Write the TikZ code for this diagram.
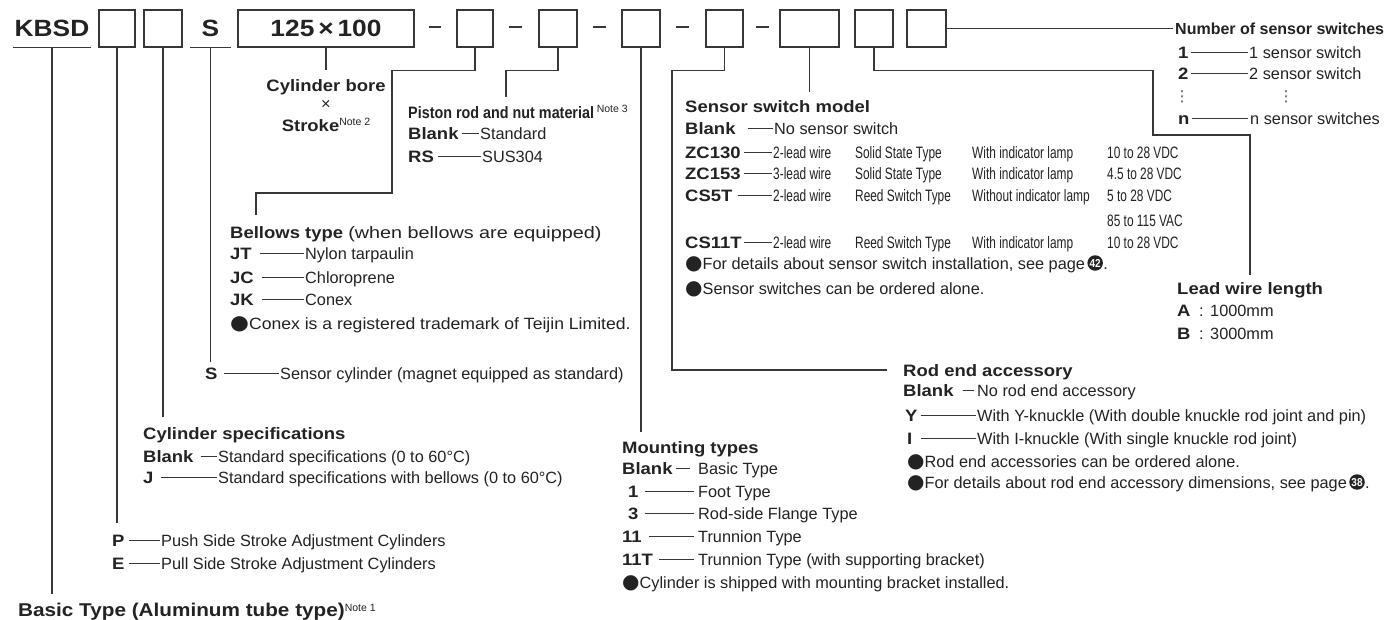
\documentclass[tikz,border=0pt]{standalone}
\usepackage{fontspec}
\setmainfont{Liberation Sans}
\newfontfamily\rgf{Liberation Sans}
\newfontfamily\cnf[FakeStretch=0.72]{Liberation Sans}
\newfontfamily\bwf[FakeStretch=1.12]{Liberation Sans}
\newfontfamily\bnf[FakeStretch=0.87]{Liberation Sans}
\newfontfamily\djv{DejaVu Sans}
\definecolor{txt}{RGB}{35,35,35}
\definecolor{lnc}{RGB}{55,55,55}
\newcommand\bulletc{{\djv\mdseries\fontsize{20}{17}\selectfont\raisebox{-0.8pt}{●}}}
\newcommand\ntsup[1]{\raisebox{5.5pt}{\rgf\mdseries\fontsize{10.5}{11}\selectfont #1}}
\tikzset{
  tx/.style={anchor=west, inner sep=0pt, text height=12pt, text depth=0pt, text=txt},
  rg/.style={tx, font=\rgf\fontsize{16.3}{18}\selectfont},
  cn/.style={tx, font=\cnf\fontsize{16.5}{18}\selectfont},
  bw/.style={tx, font=\bwf\bfseries\fontsize{16.5}{18}\selectfont},
  bn/.style={tx, font=\bnf\bfseries\fontsize{16.5}{18}\selectfont},
  bb/.style={tx, font=\rgf\bfseries\fontsize{16}{18}\selectfont},
  cbox/.style={draw=lnc, line width=1.3pt, minimum height=37pt, inner sep=0pt, text=txt,
    font=\bwf\bfseries\fontsize{23.5}{26}\selectfont, text height=16.8pt, text depth=0pt},
  hd/.style={cbox, draw=none},
  ld/.style={draw=lnc, line width=1.2pt},
  dl/.style={draw=lnc, line width=1pt},
  pgc/.style={circle, fill=txt, text=white, inner sep=0pt, minimum size=15.5pt,
    text height=8pt, text depth=0pt,
    font=\bnf\bfseries\fontsize{11.5}{11.5}\selectfont, anchor=west},
  vdots/.style={inner sep=0pt, text=txt!80, font=\djv\fontsize{15}{15}\selectfont},
}
\begin{document}
\begin{tikzpicture}[x=1pt,y=-1pt]
\useasboundingbox[fill=white] (0,0) rectangle (1387,619);

% ---------- header row ----------
\node[hd, minimum width=76pt] (kbsd) at (52,28.5) {KBSD};
\draw[ld] (kbsd.south west) -- (kbsd.south east);
\node[cbox, minimum width=36pt] (b1) at (117,28.5) {};
\node[cbox, minimum width=38pt] (b2) at (163,28.5) {};
\node[hd, minimum width=39pt] (sh) at (210.5,28.5) {S};
\draw[ld] (sh.south west) -- (sh.south east);
\node[cbox, minimum width=176pt] (b125) at (326,28.5) {125\,×\,100};
\node[cbox, minimum width=36pt] (b3) at (475,28.5) {};
\node[cbox, minimum width=38pt] (b4) at (558,28.5) {};
\node[cbox, minimum width=38pt] (b5) at (641,28.5) {};
\node[cbox, minimum width=37pt] (b6) at (724.5,28.5) {};
\node[cbox, minimum width=59pt] (b7) at (809.5,28.5) {};
\node[cbox, minimum width=38pt] (b8) at (874,28.5) {};
\node[cbox, minimum width=39pt] (b9) at (926.5,28.5) {};

\draw[ld] ([xshift=14pt,yshift=1.5pt]b125.east) -- ([xshift=-15pt,yshift=1.5pt]b3.west);
\draw[ld] ([xshift=15pt,yshift=1.5pt]b3.east) -- ([xshift=-16pt,yshift=1.5pt]b4.west);
\draw[ld] ([xshift=15pt,yshift=1.5pt]b4.east) -- ([xshift=-15pt,yshift=1.5pt]b5.west);
\draw[ld] ([xshift=15pt,yshift=1.5pt]b5.east) -- ([xshift=-16pt,yshift=1.5pt]b6.west);
\draw[ld] ([xshift=12pt,yshift=1.5pt]b6.east) -- ([xshift=-10pt,yshift=1.5pt]b7.west);

% ---------- cylinder bore x stroke ----------
\node[bw, anchor=center] (bore) at (326,85) {Cylinder bore};
\node[rg, anchor=center] (times) at (326,103) {×};
\node[bw, anchor=center] (strk) at (326,125) {Stroke\ntsup{Note 2}};
\draw[ld, shorten >=9pt] (b125.south) -- (bore.north);

% ---------- piston rod ----------
\node[bn] (pis) at (408,112) {Piston rod and nut material\,\ntsup{Note 3}};
\node[bw] (pbl) at (408,133) {Blank};
\node[rg] (pbd) at (480,133) {Standard};
\draw[dl] ([xshift=3pt]pbl.east) -- ([xshift=-1pt]pbd.west);
\node[bw] (prs) at (408,156) {RS};
\node[rg] (prd) at (482,156) {SUS304};
\draw[dl] ([xshift=4pt]prs.east) -- ([xshift=-1pt]prd.west);
\draw[ld, shorten >=9pt] (b4.south) -- ++(0,23) -| ([xshift=98pt]pis.north west);

% ---------- bellows ----------
\node[bw] (bel) at (230,232) {Bellows type\ \scalebox{1.2}[1]{\rgf\mdseries (when bellows are equipped)}};
\node[bw] (jt) at (230,253) {JT};
\node[rg] (jtd) at (305,253) {Nylon tarpaulin};
\draw[dl] ([xshift=8pt]jt.east) -- ([xshift=-1pt]jtd.west);
\node[bw] (jc) at (230,277) {JC};
\node[rg] (jcd) at (305,277) {Chloroprene};
\draw[dl] ([xshift=8pt]jc.east) -- ([xshift=-1pt]jcd.west);
\node[bw] (jk) at (230,299) {JK};
\node[rg] (jkd) at (305,299) {Conex};
\draw[dl] ([xshift=8pt]jk.east) -- ([xshift=-1pt]jkd.west);
\node[rg] (conex) at (230,323) {\scalebox{1.08}[1]{\bulletc Conex is a registered trademark of Teijin Limited.}};
\draw[ld, shorten >=11pt] (b3.south) -- ++(0,23) -| (392,193) -| ([xshift=26pt]bel.north west);

% ---------- sensor cylinder ----------
\node[bw] (sl) at (205,373) {S};
\node[rg] (sld) at (280,373) {Sensor cylinder (magnet equipped as standard)};
\draw[dl] ([xshift=6pt]sl.east) -- ([xshift=-1pt]sld.west);
\draw[ld, shorten >=5pt] (sh.south) -- (sh.south |- sl.north);

% ---------- cylinder specifications ----------
\node[bw] (cs) at (143,433) {Cylinder specifications};
\node[bw] (csb) at (143,456) {Blank};
\node[rg] (csbd) at (218,456) {Standard specifications (0 to 60°C)};
\draw[dl] ([xshift=7pt]csb.east) -- ([xshift=-1pt]csbd.west);
\node[bw] (csj) at (143,477) {J};
\node[rg] (csjd) at (218,477) {Standard specifications with bellows (0 to 60°C)};
\draw[dl] ([xshift=7pt]csj.east) -- ([xshift=-1pt]csjd.west);
\draw[ld, shorten >=10pt] (b2.south) -- (b2.south |- cs.north);

% ---------- P / E ----------
\node[bw] (pl) at (112,540) {P};
\node[rg] (pld) at (161,540) {Push Side Stroke Adjustment Cylinders};
\draw[dl] ([xshift=4pt]pl.east) -- ([xshift=-1pt]pld.west);
\node[bw] (el) at (112,563) {E};
\node[rg] (eld) at (161,563) {Pull Side Stroke Adjustment Cylinders};
\draw[dl] ([xshift=4pt]el.east) -- ([xshift=-1pt]eld.west);
\draw[ld, shorten >=11pt] (b1.south) -- (b1.south |- pl.north);

% ---------- basic type ----------
\node[bw, font=\bwf\bfseries\fontsize{18.5}{20}\selectfont, text height=13.3pt] (basic) at (18,610) {Basic Type (Aluminum tube type)\ntsup{Note 1}};
\draw[ld, shorten >=9pt] (kbsd.south) -- (kbsd.south |- basic.north);

% ---------- mounting types ----------
\node[bw] (mt) at (622,447) {Mounting types};
\node[bw] (mb) at (622,468) {Blank};
\node[rg] (mbd) at (698,468) {Basic Type};
\draw[dl] ([xshift=3pt]mb.east) -- ([xshift=-8pt]mbd.west);
\node[bw] (m1) at (628,491) {1};
\node[rg] (m1d) at (698,491) {Foot Type};
\draw[dl] ([xshift=6pt]m1.east) -- ([xshift=-4pt]m1d.west);
\node[bw] (m3) at (628,513) {3};
\node[rg] (m3d) at (698,513) {Rod-side Flange Type};
\draw[dl] ([xshift=6pt]m3.east) -- ([xshift=-4pt]m3d.west);
\node[bw] (m11) at (622,536) {11};
\node[rg] (m11d) at (698,536) {Trunnion Type};
\draw[dl] ([xshift=7pt]m11.east) -- ([xshift=-4pt]m11d.west);
\node[bw] (m11t) at (622,559) {11T};
\node[rg] (m11td) at (698,559) {Trunnion Type (with supporting bracket)};
\draw[dl] ([xshift=6pt]m11t.east) -- ([xshift=-4pt]m11td.west);
\node[rg] (mnote) at (622,582) {\bulletc Cylinder is shipped with mounting bracket installed.};
\draw[ld, shorten >=9pt] (b5.south) -- (b5.south |- mt.north);

% ---------- rod end accessory ----------
\node[bw] (rod) at (903,370) {Rod end accessory};
\node[bw] (rb) at (903,390) {Blank};
\node[rg] (rbd) at (977,390) {No rod end accessory};
\draw[dl] ([xshift=9pt]rb.east) -- ([xshift=-3pt]rbd.west);
\node[bw] (ry) at (905,415) {Y};
\node[rg] (ryd) at (977,415) {With Y-knuckle (With double knuckle rod joint and pin)};
\draw[dl] ([xshift=3pt]ry.east) -- ([xshift=-1pt]ryd.west);
\node[bw] (ri) at (907,438) {I};
\node[rg] (rid) at (977,438) {With I-knuckle (With single knuckle rod joint)};
\draw[dl] ([xshift=8pt]ri.east) -- ([xshift=-1pt]rid.west);
\node[rg] (rn1) at (907,461) {\bulletc Rod end accessories can be ordered alone.};
\node[rg] (rn2) at (907,482) {\bulletc For details about rod end accessory dimensions, see page};
\node[pgc] (rp) at ([xshift=2pt]rn2.east) {38};
\node[rg] (rdot) at (rp.east) {.};
\draw[ld, shorten >=16pt] (b6.south) -- ++(0,23) -| (672,370) -- (rod.west);

% ---------- sensor switch model ----------
\node[bw] (ssm) at (685,106) {Sensor switch model};
\node[bw] (sb) at (685,128) {Blank};
\node[rg] (sbd) at (774,128) {No sensor switch};
\draw[dl] ([xshift=12pt]sb.east) -- ([xshift=-1pt]sbd.west);
\node[bw] (z1) at (685,152) {ZC130};
\node[cn] (z1a) at (773,152) {2-lead wire};
\node[cn] (z1b) at (855,152) {Solid State Type};
\node[cn] (z1c) at (972,152) {With indicator lamp};
\node[cn] (z1d) at (1107,152) {10 to 28 VDC};
\draw[dl] ([xshift=3pt]z1.east) -- ([xshift=-1pt]z1a.west);
\node[bw] (z2) at (685,173) {ZC153};
\node[cn] (z2a) at (773,173) {3-lead wire};
\node[cn] (z2b) at (855,173) {Solid State Type};
\node[cn] (z2c) at (972,173) {With indicator lamp};
\node[cn] (z2d) at (1107,173) {4.5 to 28 VDC};
\draw[dl] ([xshift=3pt]z2.east) -- ([xshift=-1pt]z2a.west);
\node[bw] (c5) at (685,195) {CS5T};
\node[cn] (c5a) at (773,195) {2-lead wire};
\node[cn] (c5b) at (855,195) {Reed Switch Type};
\node[cn] (c5c) at (972,195) {Without indicator lamp};
\node[cn] (c5d) at (1107,195) {5 to 28 VDC};
\node[cn] (c5e) at (1107,220) {85 to 115 VAC};
\draw[dl] ([xshift=5pt]c5.east) -- ([xshift=-1pt]c5a.west);
\node[bw] (c11) at (685,242) {CS11T};
\node[cn] (c11a) at (773,242) {2-lead wire};
\node[cn] (c11b) at (855,242) {Reed Switch Type};
\node[cn] (c11c) at (972,242) {With indicator lamp};
\node[cn] (c11d) at (1107,242) {10 to 28 VDC};
\draw[dl] ([xshift=2pt]c11.east) -- ([xshift=-1pt]c11a.west);
\node[rg] (sn1) at (685,263) {\bulletc For details about sensor switch installation, see page};
\node[pgc] (sp) at ([xshift=2pt]sn1.east) {42};
\node[rg] (sdot) at (sp.east) {.};
\node[rg] (sn2) at (685,288) {\bulletc Sensor switches can be ordered alone.};
\draw[ld, shorten >=8pt] (b7.south) -- (b7.south |- ssm.north);

% ---------- number of sensor switches ----------
\node[bb] (num) at (1175,28.5) {Number of sensor switches};
\draw[ld, shorten >=2pt] (b9.east) -- (num.west);
\node[bw] (n1) at (1178,52) {1};
\node[rg] (n1d) at (1249,52) {1 sensor switch};
\draw[dl] ([xshift=2pt]n1.east) -- ([xshift=-1pt]n1d.west);
\node[bw] (n2) at (1178,73) {2};
\node[rg] (n2d) at (1249,73) {2 sensor switch};
\draw[dl] ([xshift=2pt]n2.east) -- ([xshift=-1pt]n2d.west);
\node[vdots] (dv1) at (1182,97) {⋮};
\node[vdots] (dv2) at (1286,97) {⋮};
\node[bw] (nn) at (1178,118) {n};
\node[rg] (nnd) at (1250,118) {n sensor switches};
\draw[dl] ([xshift=2pt]nn.east) -- ([xshift=-2pt]nnd.west);

% ---------- lead wire length ----------
\node[bw] (lead) at (1177,288) {Lead wire length};
\node[bw] (la) at (1177,310) {A};
\node[rg] (lac) at (1199,310) {:};
\node[rg] (lad) at (1210,310) {1000mm};
\node[bw] (lb) at (1177,333) {B};
\node[rg] (lbc) at (1199,333) {:};
\node[rg] (lbd) at (1210,333) {3000mm};
\draw[ld, shorten >=7pt] (b8.south) -- ++(0,23) -| (1153,135) -| ([xshift=73pt]lead.north west);
\end{tikzpicture}
\end{document}
